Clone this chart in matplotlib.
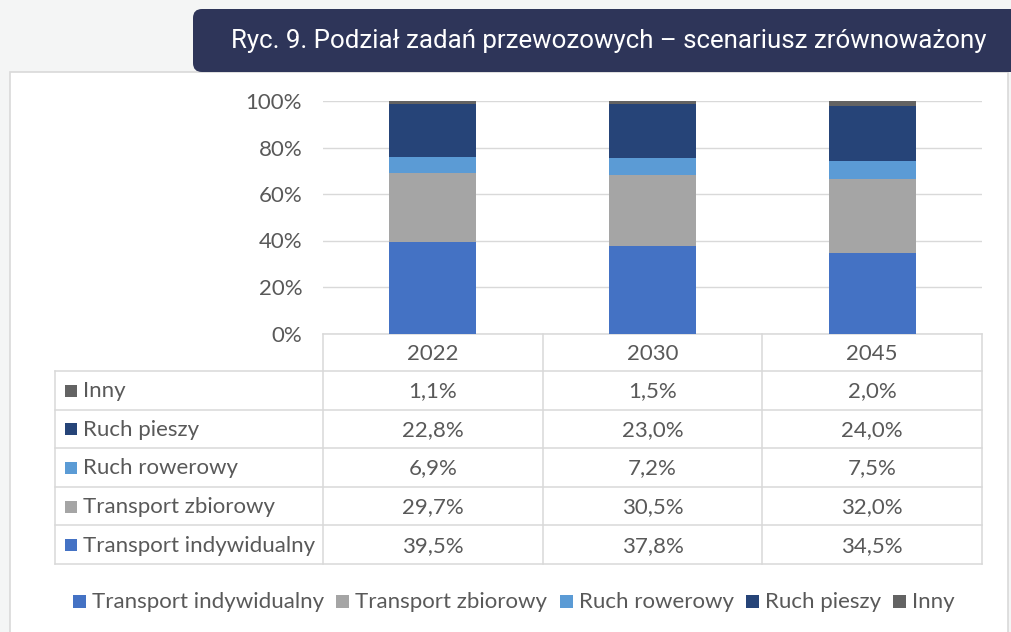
import matplotlib
matplotlib.use('Agg')
import matplotlib.pyplot as plt
from matplotlib.patches import Rectangle, FancyBboxPatch

# ---------------- data ----------------
years = ['2022', '2030', '2045']
series = ['Transport indywidualny', 'Transport zbiorowy', 'Ruch rowerowy', 'Ruch pieszy', 'Inny']
transport_indywidualny = [39.5, 37.8, 34.5]
transport_zbiorowy = [29.7, 30.5, 32.0]
ruch_rowerowy = [6.9, 7.2, 7.5]
ruch_pieszy = [22.8, 23.0, 24.0]
inny = [1.1, 1.5, 2.0]
yticks = [0, 20, 40, 60, 80, 100]
title = 'Ryc. 9. Podział zadań przewozowych – scenariusz zrównoważony'

colors = ['#4472C4', '#A5A5A5', '#5B9BD5', '#264478', '#636363']
data = [transport_indywidualny, transport_zbiorowy, ruch_rowerowy, ruch_pieszy, inny]

TXT = '#595959'
GRID = '#d9d9d9'
BODY = ['Lato', 'DejaVu Sans']
TITLEF = ['Roboto', 'DejaVu Sans']

W, H = 1011, 632
fig = plt.figure(figsize=(W / 100, H / 100), dpi=100)
fig.patch.set_facecolor('#f4f5f5')
renderer = fig.canvas.get_renderer()


def width_px(s, fs, family):
    t = fig.text(0, 0, s, fontsize=fs, family=family)
    w = t.get_window_extent(renderer).width
    t.remove()
    return w


fs_body = 12 * 230 / width_px('Transport indywidualny', 12, BODY)
fs_title = 18 * 758 / width_px(title, 18, TITLEF)

# overlay in pixel coordinates
ov = fig.add_axes([0, 0, 1, 1], zorder=0)
ov.set_xlim(0, W)
ov.set_ylim(H, 0)
ov.axis('off')

ov.add_patch(Rectangle((10, 72), 998, 600, fc='white', ec=GRID, lw=1.2))
ov.add_patch(FancyBboxPatch((193, 9), 840, 63, boxstyle='round,pad=0,rounding_size=9',
                            fc='#2e3559', ec='none'))
ov.text(609, 41, title, color='white', ha='center', va='center',
        fontsize=fs_title, family=TITLEF)

# ---------------- main chart ----------------
ax = fig.add_axes([323 / W, 1 - 333.5 / H, 659 / W, 232.5 / H], zorder=2)
ax.patch.set_alpha(0)
x = list(range(len(years)))
bottom = [0.0] * len(years)
for vals, c, name in zip(data, colors, series):
    ax.bar(x, [v / 100 for v in vals], width=0.396, bottom=[b / 100 for b in bottom],
           color=c, zorder=3, label=name)
    bottom = [b + v for b, v in zip(bottom, vals)]
ax.set_xlim(-0.5, len(years) - 0.5)
ax.set_ylim(0, 1)
ax.set_yticks([t / 100 for t in yticks])
ax.set_yticklabels([f'{t}%' for t in yticks], fontsize=fs_body, color=TXT, family=BODY)
ax.set_xticks([])
ax.tick_params(axis='y', length=0, pad=15)
ax.grid(axis='y', color=GRID, lw=1.0, zorder=0)
for s in ax.spines.values():
    s.set_visible(False)

# ---------------- data table ----------------
fig.canvas.draw()
col_edges = [55] + [ax.transData.transform((xv - 0.5, 0))[0] for xv in range(len(years) + 1)]
row_edges = [334, 371] + [371 + 38.6 * k for k in range(1, 6)]
lw_t = 1.1
ov.plot([col_edges[1], col_edges[-1]], [row_edges[0]] * 2, color=GRID, lw=lw_t)
for ry in row_edges[1:]:
    ov.plot([col_edges[0], col_edges[-1]], [ry, ry], color=GRID, lw=lw_t)
ov.plot([col_edges[0]] * 2, [row_edges[1], row_edges[-1]], color=GRID, lw=lw_t)
for cx in col_edges[1:]:
    ov.plot([cx, cx], [row_edges[0], row_edges[-1]], color=GRID, lw=lw_t)

# header
for j, yr in enumerate(years):
    cxm = (col_edges[j + 1] + col_edges[j + 2]) / 2
    ov.text(cxm, (row_edges[0] + row_edges[1]) / 2 + 1, yr, ha='center', va='center',
            fontsize=fs_body, color=TXT, family=BODY)

rows = list(zip(series, data, colors))[::-1]
for i, (name, vals, c) in enumerate(rows):
    cy = (row_edges[i + 1] + row_edges[i + 2]) / 2 + 1
    ov.add_patch(Rectangle((65, cy - 6.5), 12, 12, fc=c, ec='none'))
    ov.text(83, cy, name, ha='left', va='center', fontsize=fs_body, color=TXT, family=BODY)
    for j, v in enumerate(vals):
        cxm = (col_edges[j + 1] + col_edges[j + 2]) / 2
        ov.text(cxm, cy, f'{v:.1f}%'.replace('.', ','), ha='center', va='center',
                fontsize=fs_body, color=TXT, family=BODY)

# ---------------- legend ----------------
sq, gap_t = 13, 6
widths = [width_px(n, fs_body, BODY) for n in series]
text_total = sum(sq + gap_t + w for w in widths)
gap_i = max(8, (882 - text_total) / (len(series) - 1))
total = text_total + gap_i * (len(series) - 1)
xcur = 514 - total / 2
ly = 601
for name, c, w in zip(series, colors, widths):
    ov.add_patch(Rectangle((xcur, ly - 6.5), sq, sq, fc=c, ec='none'))
    ov.text(xcur + sq + gap_t, ly + 1, name, ha='left', va='center', fontsize=fs_body,
            color=TXT, family=BODY)
    xcur += sq + gap_t + w + gap_i

fig.savefig('out.png', dpi=100, facecolor=fig.get_facecolor())
